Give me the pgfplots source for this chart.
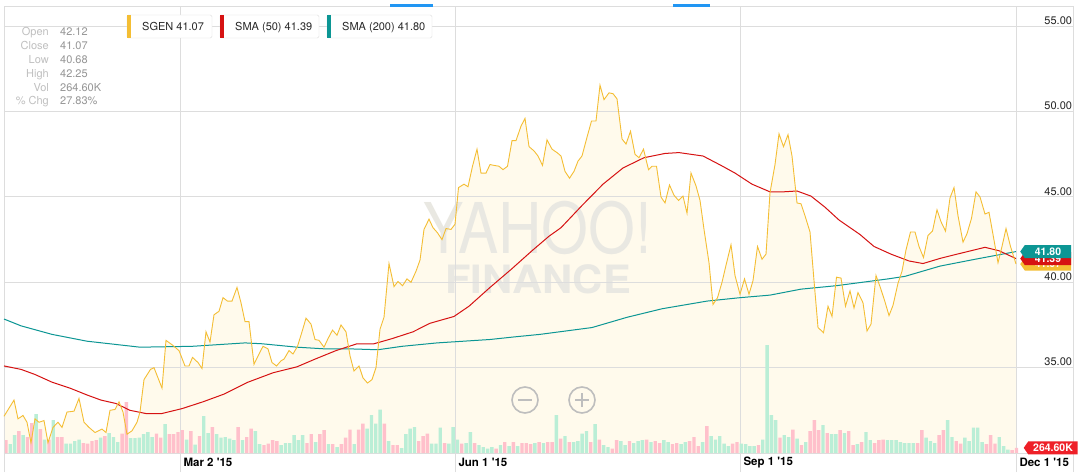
\documentclass[border=0pt]{standalone}
\usepackage{pgfplots}
\pgfplotsset{compat=1.18}
\usepackage{pgfplotstable}
\usepackage{fontspec}
\setmainfont{TeX Gyre Heros}
\usetikzlibrary{shapes.symbols}

\definecolor{gridc}{RGB}{221,221,221}
\definecolor{sgen}{RGB}{244,190,52}
\definecolor{smafifty}{RGB}{214,18,18}
\definecolor{smatwo}{RGB}{12,150,148}
\definecolor{fillc}{RGB}{255,250,236}
\definecolor{volup}{RGB}{186,238,214}
\definecolor{voldn}{RGB}{255,192,203}
\definecolor{wm}{RGB}{233,232,226}
\definecolor{infolab}{RGB}{192,192,192}
\definecolor{infoval}{RGB}{150,150,150}
\definecolor{tagred}{RGB}{238,32,40}
\definecolor{tabblue}{RGB}{33,150,243}
\definecolor{legtext}{RGB}{40,40,40}
\definecolor{btn}{RGB}{190,190,190}

% SGEN close (x = chart position, y = price)
\pgfplotstableread{
x y
4 32.15
14 33.1
18 32.0
23 32.2
27 31.8
31 30.6
35 32.0
39 31.8
44 31.9
48 30.6
53 31.5
58 31.8
62 31.5
67 32.4
74 32.45
79 33.2
84 31.8
89 31.5
95 31.2
102 31.4
106 31.2
110 32.5
115 32.55
119 33.0
123 32.4
127 31.1
132 31.3
137 31.8
140 32.4
144 34.3
150.5 34.9
154 35.0
162 33.8
166 36.6
173 36.3
179 36.0
185 35.1
189 35.1
192.5 35.6
198 35.3
202 34.95
206 37.1
210 36.5
214 38.1
219 38.3
223 39.1
227.5 38.9
232 38.9
237 39.7
241 38.8
245 37.7
249 37.7
254 35.2
259 35.8
263 36.25
268 36.1
272 35.3
276.5 35.1
281 35.4
284 35.5
289 36.0
293 35.8
297.5 36.25
302 37.1
306 37.9
311 37.55
315 36.65
319 36.6
324 36.2
328 36.7
332.5 37.2
337 36.9
341 37.5
346 37.1
350 35.7
354 34.8
359 35.1
363 34.4
367.5 34.1
372 34.3
376 35.0
380 37.25
384 37.95
389 41.1
394 39.75
398 40.05
402.5 39.8
407 40.2
411 40.0
416 40.65
420 41.3
424 43.1
429 43.7
433 43.2
437.5 42.9
442 42.5
446 43.15
451 43.1
455 43.4
458.5 45.55
464 45.75
468 45.6
472.5 46.8
477 47.8
481 46.4
486 46.4
490 46.9
494 46.85
499 46.8
503 46.6
507.5 46.8
512 48.3
516 48.3
521 49.15
525 49.6
529 47.95
534 47.7
538 47.4
542.5 46.85
547 48.35
552 47.8
557 47.6
561 47.4
565 46.5
569.5 46.1
574 46.5
578 47.1
582 47.4
587 48.5
591.5 49.45
596 49.45
600 51.55
604 50.7
609 51.1
613 51.05
617 50.75
622 48.4
626 48.1
630.5 48.85
635 47.5
639 47.3
643.5 47.8
648.5 46.6
652 46.8
656.5 46.8
661 45.0
665 44.65
669.5 45.7
674 45.1
678.5 44.8
683 45.05
687 44.05
691 46.4
696 45.65
700 44.8
704 43.1
709 41.15
713 38.7
717.5 39.1
722 40.0
726 41.0
731 42.2
735 40.4
740 39.3
744.5 40.2
749 39.3
753 40.1
757.5 42.1
762 41.35
766 41.65
770 45.25
775 46.9
779 48.7
783.5 47.95
788 48.65
792 47.4
797 44.65
801 44.6
805 43.9
810 42.95
814 40.1
818 37.35
823.5 37.05
828 38.6
832 38.0
836.5 40.3
841 40.25
845.5 38.6
850 39.5
854 38.5
858 39.4
863 38.8
867 37.15
871 37.55
876 40.4
880 39.75
884.5 38.95
889 38.05
893 38.65
898 39.95
902 40.65
906 41.9
910.5 42.95
915 42.95
919 42.1
923.5 41.45
928 42.75
932.5 43.0
937 44.25
941 43.55
945.5 43.0
950 44.95
954 45.55
958 43.9
963 42.35
967 42.85
971.5 43.75
976 45.3
980 45.0
985 44.0
989 44.1
993 42.8
998 41.15
1002 42.1
1006 43.15
1010.5 42.1
1016 41.07
}\sgendata

\pgfplotstableread{
x y
4 35.1
21 34.9
35 34.6
52 34.15
70 33.8
87 33.4
101 33.1
116 32.9
130 32.5
147 32.3
161 32.3
182 32.6
203 33.0
224 33.45
248 34.15
273 34.7
297 35.05
315 35.5
336 36.0
357 36.4
374 36.4
392 36.7
413 37.1
430 37.6
454 38.0
469 38.6
490 39.7
511 40.75
532 41.85
549 42.7
561 43.2
582 44.5
603 45.75
623 46.7
644 47.3
665 47.55
679 47.6
703 47.4
721 46.85
735 46.4
752 45.75
770 45.3
783 45.3
797 45.35
811 45.05
825 44.4
839 43.65
860 42.8
874 42.1
891 41.65
909 41.25
923 41.1
940 41.4
957 41.65
985 42.05
999 41.85
1016 41.39
}\smafiftydata

\pgfplotstableread{
x y
4 37.85
21 37.45
52 36.95
87 36.55
140 36.2
192 36.25
245 36.45
262 36.4
297 36.2
325 36.1
350 36.1
378 36.05
402 36.25
437 36.45
490 36.65
514 36.8
540 36.95
592 37.35
627 37.95
662 38.45
707 38.9
740 39.1
770 39.25
801 39.6
836 39.8
888 40.2
905 40.35
940 40.95
975 41.35
1016 41.8
}\smatwodata

% volume (millions), trading-day index
\pgfplotstableread{
i v
1 0.44
2 0.89
4 0.89
7 1.95
9 0.67
11 1.64
14 0.47
15 0.47
16 0.60
17 0.67
22 0.77
24 1.00
25 0.80
26 0.55
29 0.75
30 0.75
31 0.77
32 0.94
33 1.05
34 0.80
37 1.44
42 0.67
44 0.42
46 1.84
47 1.00
49 0.94
50 0.77
51 0.80
52 0.72
53 0.64
55 0.64
58 1.10
59 0.44
64 0.39
65 0.50
66 0.50
67 0.89
68 0.64
69 0.89
72 0.55
75 0.44
77 0.30
81 0.44
84 1.22
85 1.89
86 1.47
87 2.17
89 0.59
92 0.25
93 0.94
94 1.22
95 1.30
99 0.47
100 0.47
101 1.27
103 0.47
104 1.30
105 0.67
107 0.50
108 1.05
110 0.39
111 0.30
112 0.22
113 0.30
115 0.39
117 0.34
119 0.34
123 0.50
125 0.50
128 1.89
130 0.84
132 0.55
133 0.60
134 0.97
135 1.09
137 1.44
139 0.39
140 0.30
143 0.59
144 0.39
146 0.50
147 0.59
148 0.64
150 0.55
153 0.64
154 0.55
157 0.44
158 0.55
162 0.55
164 0.84
165 0.67
166 0.84
167 0.47
168 0.34
171 0.47
172 0.44
173 0.34
174 0.34
176 0.67
177 5.40
178 1.89
179 1.64
181 0.89
182 0.80
184 0.72
186 0.55
190 1.39
192 0.94
193 0.94
195 1.00
198 0.44
200 1.05
201 0.64
205 0.64
206 0.64
207 0.64
208 0.55
209 0.50
210 0.50
211 0.50
214 0.77
215 0.60
216 0.50
219 1.64
220 0.80
223 0.77
224 0.60
225 1.27
226 1.27
227 0.55
231 0.80
232 0.34
233 0.17
}\volupdata

\pgfplotstableread{
i v
0 0.64
3 1.09
5 0.80
6 1.50
8 1.19
10 0.67
12 0.80
13 0.80
18 0.50
19 0.47
20 0.59
21 0.64
23 0.84
27 0.97
28 2.55
35 0.97
36 0.77
38 0.94
39 0.94
40 1.05
41 1.14
43 1.10
45 0.84
48 1.30
54 1.30
56 0.80
57 1.22
60 0.39
61 0.47
62 0.64
63 0.60
70 0.50
71 0.94
73 0.94
74 1.14
76 0.44
78 0.44
79 0.77
80 1.17
82 1.17
83 1.47
88 1.47
90 0.39
91 0.39
96 0.60
97 0.84
98 0.97
102 0.50
106 0.47
109 0.50
114 0.22
116 0.55
118 0.55
120 0.50
121 0.50
122 0.44
124 0.55
126 0.55
127 0.55
129 0.72
131 0.55
136 0.55
138 0.67
141 0.22
142 0.64
145 0.60
149 0.67
151 0.59
152 0.50
155 0.44
156 0.50
159 0.60
160 0.80
161 0.34
163 1.35
169 0.47
170 0.55
175 0.39
180 0.77
183 1.17
185 0.39
187 1.10
188 1.64
189 1.14
191 1.00
194 1.14
196 1.10
197 0.39
199 0.55
202 0.50
203 0.64
204 0.67
212 0.50
213 1.14
217 0.89
218 1.14
221 0.60
222 0.47
228 0.44
229 0.89
230 0.47
234 0.14
235 0.26
}\voldndata

\pgfplotsset{
  chartpos/.style={at={(4pt,19pt)}, anchor=south west, scale only axis,
    width=1069pt, height=446pt},
  pricerange/.style={xmin=4, xmax=1073, ymin=30, ymax=56.13},
}
\tikzset{
  pricetag/.style={signal, signal to=west, signal pointer angle=110,
    minimum width=51pt, minimum height=13pt, inner sep=0pt, text=white,
    font=\bfseries\fontsize{10.5}{12}\selectfont},
}

\begin{document}
\begin{tikzpicture}
\useasboundingbox (0pt,0pt) rectangle (1086pt,472pt);
\fill[white] (0pt,0pt) rectangle (1086pt,472pt);

% base axis: area fill, watermark, grid and tick labels
\begin{axis}[chartpos, pricerange,
  axis on top,
  axis line style={draw=none},
  major tick length=0pt,
  xmajorgrids, ymajorgrids,
  grid style={draw=gridc, line width=1pt},
  xtick={180,455,740,1016},
  xticklabels={Mar 2 \textquotesingle15, Jun 1 \textquotesingle15, Sep 1 \textquotesingle15, Dec 1 \textquotesingle15},
  xticklabel style={anchor=west, xshift=0pt, yshift=-9pt,
    font=\bfseries\fontsize{11.5}{13}\selectfont, text=black},
  ytick={30,35,40,45,50,55},
  yticklabel pos=right,
  /pgf/number format/assume math mode=true,
  yticklabel={\pgfmathprintnumber[fixed,fixed zerofill,precision=2]{\tick}},
  yticklabel style={anchor=south east, xshift=2.5pt, yshift=-2pt,
    font=\fontsize{11}{13}\selectfont, text=black!85},
]
\addplot[fill=fillc, draw=none] table[x=x,y=y] {\sgendata} \closedcycle;
\node[text=wm, font=\fontsize{70}{70}\selectfont, xscale=0.86] at (axis cs:538,43.18) {YAHOO!};
\node[text=wm, font=\bfseries\fontsize{39}{39}\selectfont, xscale=1.07] at (axis cs:538,40.19) {FINANCE};
\end{axis}

% volume bars
\begin{axis}[chartpos, hide axis, xmin=-0.465, xmax=248.14, ymin=0, ymax=22.3]
\addplot[ybar, bar width=3.4pt, bar shift=0pt, fill=volup, draw=none] table[x=i,y=v] {\volupdata};
\addplot[ybar, bar width=3.4pt, bar shift=0pt, fill=voldn, draw=none] table[x=i,y=v] {\voldndata};
\end{axis}

% frame and tick extensions
\draw[gridc, line width=1pt] (4pt,0pt) -- (4pt,465pt) -- (1073pt,465pt) -- (1073pt,0pt);
\foreach \xx in {180,455,740,1016} {\draw[gridc, line width=1pt] (\xx pt,0pt) -- (\xx pt,19pt);}

% price lines and tags
\begin{axis}[chartpos, pricerange, hide axis, clip=false]
\addplot[smatwo, line width=1pt] table[x=x,y=y] {\smatwodata};
\addplot[smafifty, line width=1pt] table[x=x,y=y] {\smafiftydata};
\addplot[sgen, line width=0.9pt] table[x=x,y=y] {\sgendata};
\node[pricetag, fill=sgen] at (axis cs:1048,41.07) {41.07};
\node[pricetag, fill=smafifty] at (axis cs:1048,41.39) {41.39};
\node[pricetag, fill=smatwo] at (axis cs:1048,41.80) {41.80};
\node[pricetag, fill=tagred, minimum width=54pt] at (axis cs:1053,30.3) {264.60K};
\end{axis}

% top tabs
\fill[tabblue] (390pt,465pt) rectangle (433pt,468pt);
\fill[tabblue] (673pt,465pt) rectangle (710pt,468pt);

% legend boxes
\begin{scope}[font=\fontsize{11}{13}\selectfont]
\filldraw[fill=white, draw=gridc, rounded corners=1.5pt] (127pt,434pt) rectangle (212pt,457pt);
\fill[sgen] (127pt,434pt) rectangle (131pt,457pt);
\node[anchor=base west, inner sep=0pt, text=legtext] at (142pt,441pt) {SGEN 41.07};
\filldraw[fill=white, draw=gridc, rounded corners=1.5pt] (220pt,434pt) rectangle (319pt,457pt);
\fill[smafifty] (220pt,434pt) rectangle (224pt,457pt);
\node[anchor=base west, inner sep=0pt, text=legtext] at (235pt,441pt) {SMA (50) 41.39};
\filldraw[fill=white, draw=gridc, rounded corners=1.5pt] (327pt,434pt) rectangle (432pt,457pt);
\fill[smatwo] (327pt,434pt) rectangle (331pt,457pt);
\node[anchor=base west, inner sep=0pt, text=legtext] at (342pt,441pt) {SMA (200) 41.80};
\end{scope}

% info panel
\begin{scope}[font=\fontsize{11}{13}\selectfont]
\node[anchor=base east, inner sep=0pt, text=infolab] at (49pt,436pt) {Open};
\node[anchor=base west, inner sep=0pt, text=infoval] at (60pt,436pt) {42.12};
\node[anchor=base east, inner sep=0pt, text=infolab] at (49pt,422pt) {Close};
\node[anchor=base west, inner sep=0pt, text=infoval] at (60pt,422pt) {41.07};
\node[anchor=base east, inner sep=0pt, text=infolab] at (49pt,408pt) {Low};
\node[anchor=base west, inner sep=0pt, text=infoval] at (60pt,408pt) {40.68};
\node[anchor=base east, inner sep=0pt, text=infolab] at (49pt,394pt) {High};
\node[anchor=base west, inner sep=0pt, text=infoval] at (60pt,394pt) {42.25};
\node[anchor=base east, inner sep=0pt, text=infolab] at (49pt,380pt) {Vol};
\node[anchor=base west, inner sep=0pt, text=infoval] at (60pt,380pt) {264.60K};
\node[anchor=base east, inner sep=0pt, text=infolab] at (49pt,367pt) {\% Chg};
\node[anchor=base west, inner sep=0pt, text=infoval] at (60pt,367pt) {27.83\%};
\end{scope}

% zoom buttons
\draw[btn, line width=1.6pt] (525pt,72pt) circle (13pt);
\draw[btn, line width=2pt] (518pt,72pt) -- (532pt,72pt);
\draw[btn, line width=1.6pt] (582pt,72pt) circle (13pt);
\draw[btn, line width=2pt] (575pt,72pt) -- (589pt,72pt);
\draw[btn, line width=2pt] (582pt,65pt) -- (582pt,79pt);
\end{tikzpicture}
\end{document}
